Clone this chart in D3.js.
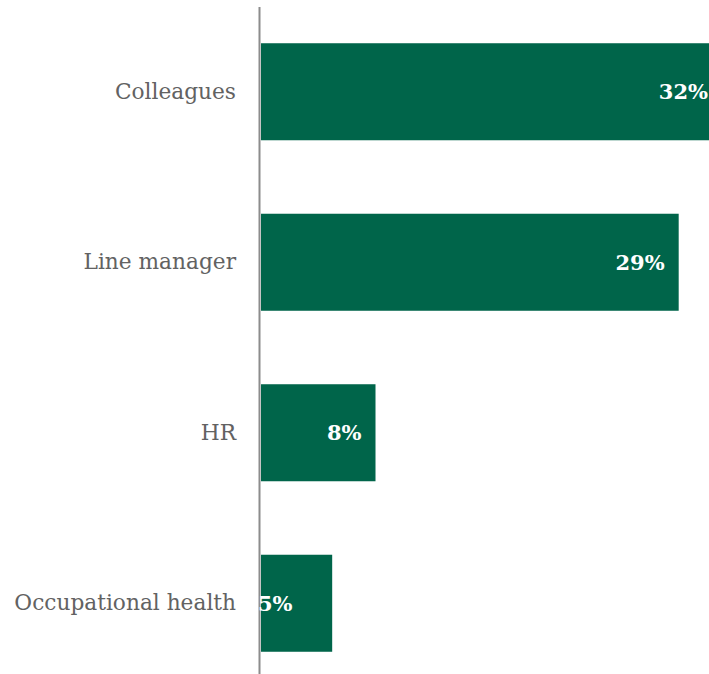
<!DOCTYPE html>
<html>
<head>
<meta charset="utf-8">
<script src="https://cdn.jsdelivr.net/npm/d3@7"></script>
<style>
  html, body { margin: 0; padding: 0; background: #fff; }
  svg { display: block; overflow: hidden; }
</style>
</head>
<body>
<svg id="chart" width="709" height="674"></svg>
<script>
// Share of respondents who would turn to each source of support
const categories = ["Colleagues", "Line manager", "HR", "Occupational health"];
const values = [32, 29, 8, 5];
const valueLabels = ["32%", "29%", "8%", "5%"];

const W = 709, H = 674;
const axisX = 260;
const gap = 0.431;

const svg = d3.select("#chart");

const x = d3.scaleLinear().domain([0, 32]).range([axisX, axisX + 462]);
const y = d3.scaleBand()
  .domain(categories)
  .range([6.5, 688.5])
  .paddingInner(gap)
  .paddingOuter(gap / 2);

const rows = categories.map((c, i) => ({ c, v: values[i], label: valueLabels[i] }));

// bars
svg.append("g")
  .selectAll("rect")
  .data(rows)
  .join("rect")
  .attr("x", x(0) + 1)
  .attr("y", d => y(d.c))
  .attr("width", d => x(d.v) - x(0) - 1)
  .attr("height", y.bandwidth())
  .attr("fill", "#00654A");

// category axis line
svg.append("line")
  .attr("x1", axisX - 0.5).attr("x2", axisX - 0.5)
  .attr("y1", 7).attr("y2", H)
  .attr("stroke", "#8c8c8c")
  .attr("stroke-width", 2);

// category labels
const axis = d3.axisLeft(y).tickSize(0).tickPadding(24);
const ag = svg.append("g").attr("transform", `translate(${axisX},0)`).call(axis);
ag.select(".domain").remove();
ag.selectAll("text")
  .attr("fill", "#626262")
  .style("font-family", "'DejaVu Serif', serif")
  .style("font-size", "21.7px");

// value labels inside the bar ends; narrow bars keep the label at the bar start
svg.append("g")
  .selectAll("text")
  .data(rows)
  .join("text")
  .attr("x", d => (x(d.v) - x(0) < 100) ? x(0) - 2 : x(d.v) - 14)
  .attr("text-anchor", d => (x(d.v) - x(0) < 100) ? "start" : "end")
  .attr("y", d => y(d.c) + y.bandwidth() / 2)
  .attr("dy", "0.36em")
  .attr("fill", "#ffffff")
  .style("font-family", "'DejaVu Serif', serif")
  .style("font-weight", "bold")
  .style("font-size", "21px")
  .text(d => d.label);
</script>
</body>
</html>
